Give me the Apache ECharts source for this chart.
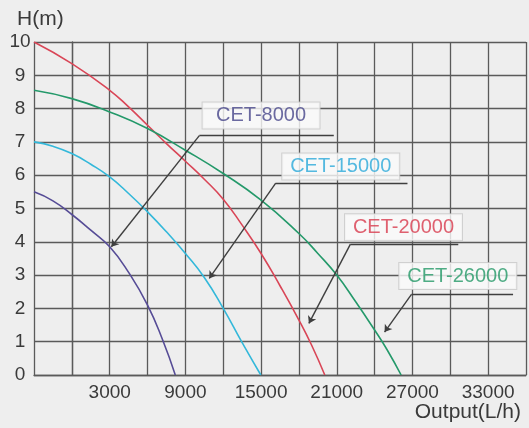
<!DOCTYPE html>
<html>
<head>
<meta charset="utf-8">
<script src="https://cdn.jsdelivr.net/npm/echarts@6/dist/echarts.min.js"></script>
<style>
html,body{margin:0;padding:0;background:#eeeeee;}
#chart{width:529px;height:428px;}
</style>
</head>
<body>
<div id="chart"></div>
<script>
// ---- data (flow in L/h, head in m) ----
const seriesNames = ['CET-8000', 'CET-15000', 'CET-20000', 'CET-26000'];
const cet8000 = [[-3000,5.5],[-1500,5.23],[0,4.82],[1500,4.35],[3000,3.85],[4500,3.08],[6000,2.1],[7200,1.05],[8200,0]];
const cet15000 = [[-3000,7.0],[-1500,6.87],[0,6.65],[1500,6.33],[3000,5.95],[4500,5.45],[6000,4.9],[7500,4.3],[9000,3.65],[10500,2.93],[12000,2.0],[13500,0.97],[14980,0]];
const cet20000 = [[-3000,10],[0,9.35],[3000,8.55],[4500,8.05],[6000,7.5],[7500,6.95],[9000,6.42],[10500,5.88],[12000,5.28],[13500,4.5],[15000,3.65],[16500,2.68],[18000,1.65],[19000,0.9],[20050,0]];
const cet26000 = [[-3000,8.55],[0,8.3],[3000,7.9],[6000,7.4],[9000,6.75],[12000,6.05],[15000,5.25],[18000,4.25],[19500,3.65],[21000,3.0],[22500,2.2],[24000,1.35],[25000,0.75],[26100,0]];
const xLabelValues = [3000, 9000, 15000, 21000, 27000, 33000];
const yLabelValues = [0,1,2,3,4,5,6,7,8,9,10];
// annotation anchors in data coordinates: [tip, elbow, end], label centre
const annoTip   = [[3134,3.85],[10895,2.90],[18790,1.55],[24790,1.29]];
const annoElbow = [[10105,7.19],[16160,5.76],[22082,3.93],[26921,2.42]];
const annoEnd   = [[20763,7.19],[26605,5.76],[30632,3.93],[34974,2.42]];
const annoLabel = [[15000,7.79],[21316,6.26],[26290,4.44],[30592,2.97]];

const lineColors = ['#564c96', '#33b8da', '#d94657', '#24996a'];
const textColors = ['#46458a', '#2aa9d9', '#d83a4c', '#239866'];

const chart = echarts.init(document.getElementById('chart'), null, {renderer:'canvas'});
const curves = [cet8000, cet15000, cet20000, cet26000];
const series = curves.map((d, i) => ({
  type: 'line', name: seriesNames[i], data: d, smooth: 0.5, symbol: 'none',
  lineStyle: {color: lineColors[i], width: 1.6}, z: 3, silent: true
}));
series.push({
  type: 'lines', coordinateSystem: 'cartesian2d', z: 4, silent: true,
  symbol: ['arrow', 'none'], symbolSize: [7, 11],
  lineStyle: {color: '#3f3f3f', width: 1.4, opacity: 1},
  data: annoTip.map((t, i) => ({coords: [t, annoElbow[i]]}))
});
series.push({
  type: 'lines', coordinateSystem: 'cartesian2d', z: 4, silent: true,
  symbol: ['none', 'none'],
  lineStyle: {color: '#3f3f3f', width: 1.4, opacity: 1},
  data: annoElbow.map((e, i) => ({coords: [e, annoEnd[i]]}))
});
series.push({
  type: 'scatter', z: 5, silent: true, symbol: 'rect', symbolSize: 1,
  itemStyle: {color: 'rgba(0,0,0,0)'},
  data: annoLabel.map((p, i) => ({
    value: p,
    label: {
      show: true, position: 'inside', formatter: seriesNames[i],
      color: textColors[i], fontSize: 20, fontFamily: 'Liberation Sans, Arial, sans-serif',
      backgroundColor: '#fafafa', borderColor: '#c8c8c8', borderWidth: 1,
      width: 107, align: 'center',
      padding: [3, 5, 3, 5], lineHeight: 20
    }
  }))
});

chart.setOption({
  backgroundColor: '#eeeeee',
  animation: false,
  grid: {left: 34, right: 0, top: 42, bottom: 53},
  xAxis: {
    type: 'value', min: -3000, max: 36000, interval: 3000,
    axisLine: {show: true, lineStyle: {color: '#5a5a5a', width: 1.3}},
    axisTick: {show: false},
    splitLine: {show: true, lineStyle: {color: '#5a5a5a', width: 1.3}},
    axisLabel: {
      margin: 8, fontSize: 19, color: '#3a3a3a', fontFamily: 'Liberation Sans, Arial, sans-serif',
      formatter: v => xLabelValues.indexOf(v) >= 0 ? String(v) : ''
    }
  },
  yAxis: {
    type: 'value', min: 0, max: 10, interval: 1,
    axisLine: {show: true, lineStyle: {color: '#5a5a5a', width: 1.3}},
    axisTick: {show: false},
    splitLine: {show: true, lineStyle: {color: '#5a5a5a', width: 1.3}},
    axisLabel: {
      margin: 14, align: 'center', fontSize: 19, color: '#3a3a3a', fontFamily: 'Liberation Sans, Arial, sans-serif',
      formatter: v => yLabelValues.indexOf(v) >= 0 ? String(v) : ''
    }
  },
  graphic: [
    {type: 'text', left: 17, top: 9, style: {text: 'H(m)', fontSize: 21, fill: '#3a3a3a', fontFamily: 'Liberation Sans, Arial, sans-serif'}},
    {type: 'text', right: 8, top: 402, style: {text: 'Output(L/h)', fontSize: 21, fill: '#3a3a3a', fontFamily: 'Liberation Sans, Arial, sans-serif'}}
  ],
  series: series
});
</script>
</body>
</html>
